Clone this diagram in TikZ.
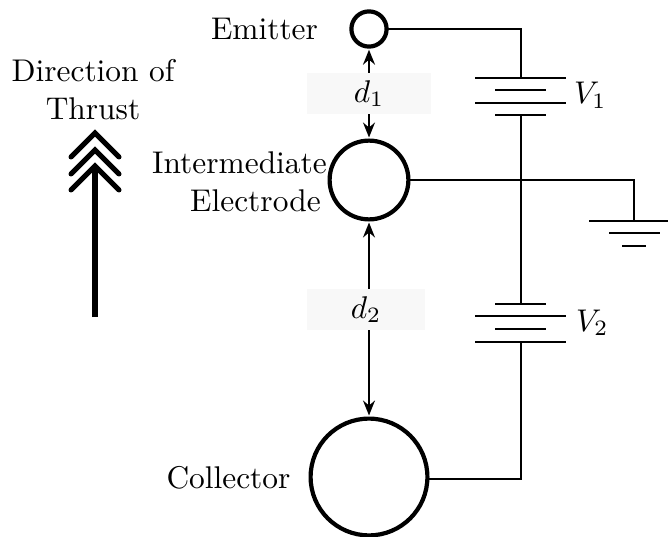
\documentclass[tikz,border=0pt]{standalone}
\usetikzlibrary{arrows.meta}
\definecolor{boxgrey}{HTML}{F8F8F8}
\tikzset{
  x=1pt,y=-1pt,
  txt/.style={inner sep=0pt,outer sep=0pt,scale=3.14},
  electrode/.style={circle,draw,line width=4.2pt,inner sep=0pt,fill=white},
  wire/.style={line width=2pt,line cap=rect},
  plate/.style={line width=2pt},
  gap/.style={arrows={Stealth[length=15pt,width=12pt,inset=5pt]-Stealth[length=15pt,width=12pt,inset=5pt]},line width=2pt,shorten <=1pt,shorten >=1pt},
  dbox/.style={txt,fill=boxgrey,minimum height=13.06pt},
  chev/.style={line width=5pt,line cap=round,line join=miter}
}
\begin{document}
\begin{tikzpicture}
\useasboundingbox (0,0) rectangle (668,537);
% electrodes
\node[electrode,minimum size=35.2pt] (em) at (369,29) {};
\node[electrode,minimum size=78.8pt] (ie) at (369,180) {};
\node[electrode,minimum size=116.8pt] (col) at (369,477) {};
% gap arrows and their labels
\draw[gap] (em.south) -- (ie.north);
\draw[gap] (ie.south) -- (col.north);
\node[dbox,minimum width=39.5pt] (d1) at (369,93.5) {$d_1$};
\node[dbox,minimum width=37.6pt] (d2) at (366,309.5) {$d_2$};
% battery V1
\coordinate (v1a) at (520.5,78);
\coordinate (v1b) at (520.5,115);
\draw[plate] (475,78) -- (566,78);
\draw[plate] (495,90) -- (546,90);
\draw[plate] (475,103) -- (566,103);
\draw[plate] (495,115) -- (546,115);
% battery V2
\coordinate (v2a) at (520.5,304);
\coordinate (v2b) at (520.5,342);
\draw[plate] (495,304) -- (546,304);
\draw[plate] (475,316) -- (566,316);
\draw[plate] (495,329) -- (546,329);
\draw[plate] (475,342) -- (566,342);
% ground
\coordinate (gnd) at (634,221);
\draw[plate] (589,221) -- (668,221);
\draw[plate] (609,233) -- (660,233);
\draw[plate] (622,246) -- (646,246);
% wires
\draw[wire] (em.east) -| (v1a);
\draw[wire] (v1b) -- (v2a);
\draw[wire] (ie.east) -| (gnd);
\draw[wire] (col.-2) -| (v2b);
% labels
\node[txt,anchor=base] (lem) at (264.5,39.5) {Emitter};
\node[txt,align=center,anchor=center] (ldir) at (93,89.5) {Direction of\\Thrust};
\node[txt,align=left,anchor=center] (lint) at (239.5,182) {Intermediate\\\hspace*{12.1pt}Electrode};
\node[txt,anchor=base] (lcol) at (228.5,488) {Collector};
\node[txt,anchor=base west] (lv1) at (574,104) {$V_1$};
\node[txt,anchor=base west] (lv2) at (576,331) {$V_2$};
% thrust arrow
\coordinate (tb) at (95,317);
\coordinate (tt) at (95,166);
\draw[line width=5.3pt] (tb) -- (tt);
\draw[chev] (71,157) -- (95,133) -- (119,157);
\draw[chev] (71,174) -- (95,150) -- (119,174);
\draw[chev] (71,190) -- (95,166) -- (119,190);
\end{tikzpicture}
\end{document}
